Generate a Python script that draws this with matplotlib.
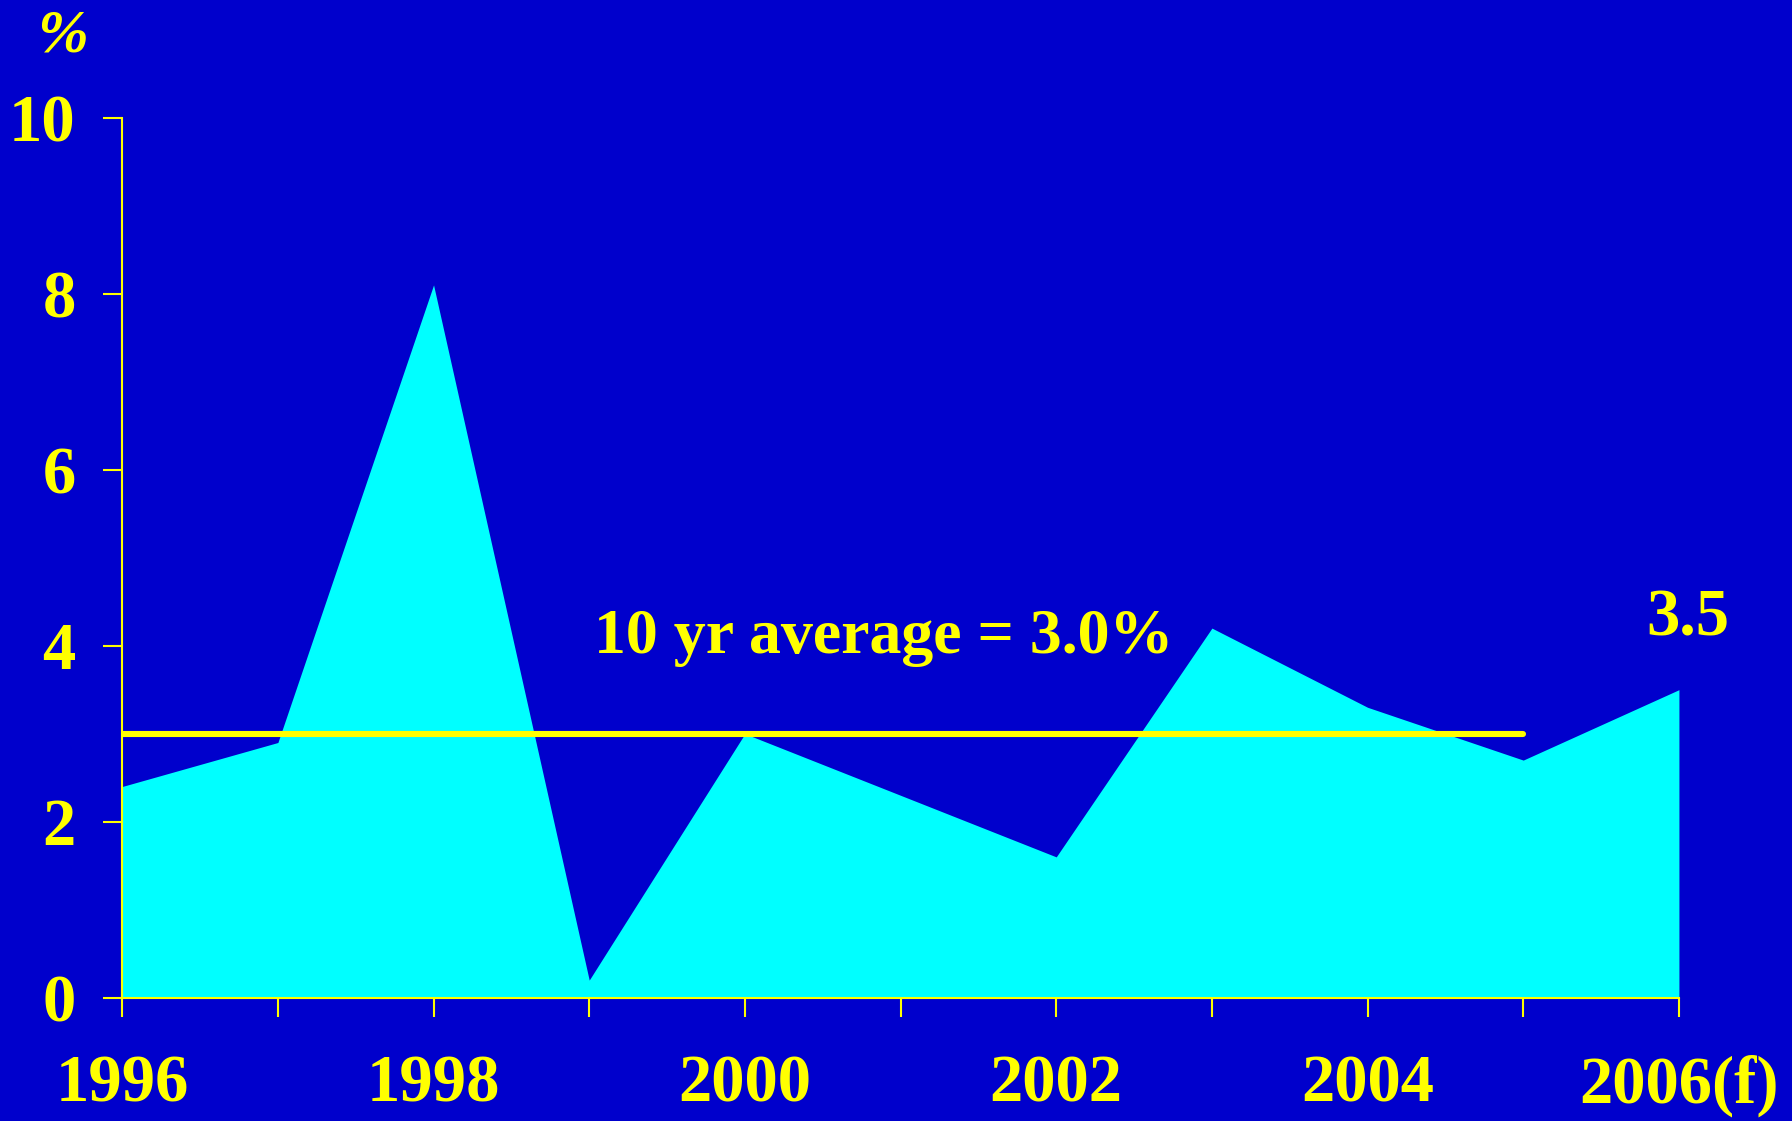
import matplotlib
matplotlib.use("Agg")
import matplotlib.pyplot as plt

# GDP growth, annual %, with a forecast for the final year
years = [1996, 1997, 1998, 1999, 2000, 2001, 2002, 2003, 2004, 2005, 2006]
growth = [2.4, 2.9, 8.1, 0.2, 3.0, 2.3, 1.6, 4.2, 3.3, 2.7, 3.5]
avg_years = [1996, 2005]
avg_value = 3.0
tick_years = [1996, 1998, 2000, 2002, 2004, 2006]
tick_labels = ["1996", "1998", "2000", "2002", "2004", "2006(f)"]
y_ticks = [0, 2, 4, 6, 8, 10]
avg_label = "10 yr average = 3.0%"
last_label = "3.5"

BG = "#0000CC"
FILL = "#00FFFF"
YEL = "#FFFF00"
FONT = "Liberation Serif"

fig = plt.figure(figsize=(17.92, 11.21), dpi=100, facecolor=BG)
ax = fig.add_axes([0.0682, 0.110, 0.8687, 0.785])
ax.set_facecolor(BG)

ax.fill_between(years, growth, 0, color=FILL, linewidth=0, zorder=1)
ax.plot(avg_years, [avg_value, avg_value], color=YEL, linewidth=4.4,
        solid_capstyle="round", zorder=3)

ax.set_xlim(years[0], years[-1])
ax.set_ylim(0, 10)

for side in ("top", "right"):
    ax.spines[side].set_visible(False)
for side in ("left", "bottom"):
    ax.spines[side].set_color(YEL)
    ax.spines[side].set_linewidth(1.5)
    ax.spines[side].set_zorder(4)

ax.set_xticks(years)
ax.set_xticklabels([tick_labels[tick_years.index(y)] if y in tick_years else "" for y in years])
ax.set_yticks(y_ticks)
ax.set_yticklabels([str(v) for v in y_ticks])

ax.tick_params(axis="both", colors=YEL, width=1.5, length=14, direction="out")
ax.tick_params(axis="x", pad=27)
ax.tick_params(axis="y", pad=19.5)
for lab in ax.get_xticklabels() + ax.get_yticklabels():
    lab.set_fontfamily(FONT)
    lab.set_fontweight("bold")
    lab.set_fontsize(48)
    lab.set_color(YEL)

ax.text(1999.03, 3.92, avg_label, color=YEL, fontsize=46, fontweight="bold",
        fontfamily=FONT, ha="left", va="baseline", zorder=5)
ax.text(2006.06, 4.12, last_label, color=YEL, fontsize=48, fontweight="bold",
        fontfamily=FONT, ha="center", va="baseline", zorder=5)

fig.text(62 / 1792, 1 - 36 / 1121, "%", color=YEL, fontsize=44, fontweight="bold",
         fontstyle="italic", fontfamily=FONT, ha="center", va="center")

fig.savefig("out.png", dpi=100, facecolor=BG)
